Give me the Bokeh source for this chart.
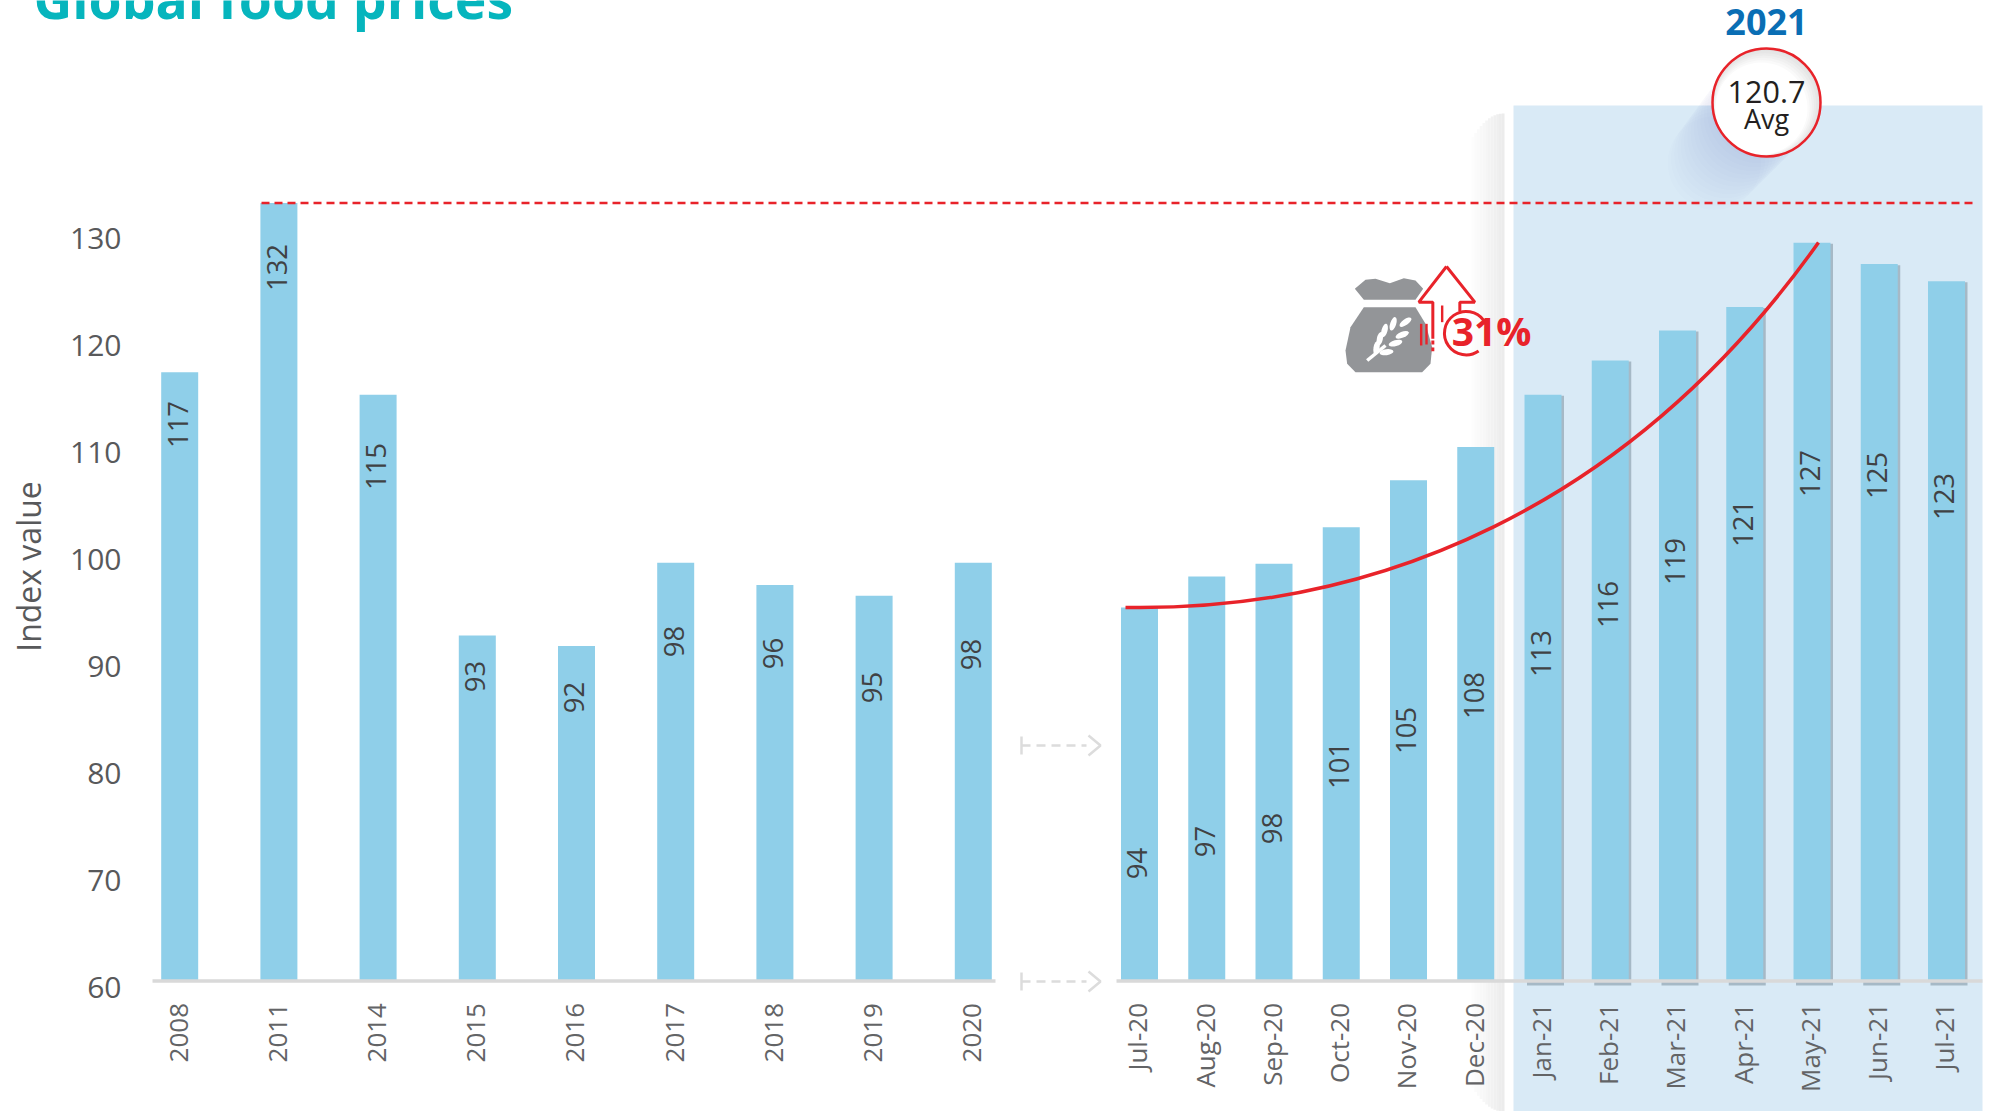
import math
from bokeh.core.properties import value
from bokeh.embed import file_html
from bokeh.models import FixedTicker, LinearAxis, Range1d
from bokeh.plotting import figure
from bokeh.resources import INLINE

# ---- data -------------------------------------------------------------
years = ["2008", "2011", "2014", "2015", "2016", "2017", "2018", "2019", "2020"]
year_values = [116.9, 132.7, 114.8, 92.3, 91.3, 99.1, 97.0, 96.0, 99.1]
year_labels = ["117", "132", "115", "93", "92", "98", "96", "95", "98"]

months = ["Jul-20", "Aug-20", "Sep-20", "Oct-20", "Nov-20", "Dec-20", "Jan-21",
          "Feb-21", "Mar-21", "Apr-21", "May-21", "Jun-21", "Jul-21"]
month_values = [94.9, 97.8, 99.0, 102.4, 106.8, 109.9, 114.8, 118.0, 120.8, 123.0, 129.0, 127.0, 125.4]
month_labels = ["94", "97", "98", "101", "105", "108", "113", "116", "119", "121", "127", "125", "123"]

y_ticks = [60, 70, 80, 90, 100, 110, 120, 130]
peak_value = 132.7

# ---- layout (reference pixels) ------------------------------------------
W, H = 1995, 1111
X0, X1, Y0, Y1 = 0, W, 0, H
BASE_PX, PX_PER_UNIT = 980.5, 10.7


def Y(px):
    return 60 + (BASE_PX - px) / PX_PER_UNIT


year_x = [179.2 + 99.2 * i for i in range(len(years))]
month_x = [1139 + 67.25 * i for i in range(len(months))]
BAR_W = 37
LABEL_SHIFT = 2.2
year_label_px = [424, 267, 466, 676, 697, 641, 653, 687, 654]
month_label_px = [863, 841, 828, 765, 730, 695, 653, 604, 561, 523, 473, 475, 496]
C_BAR, C_BAND, C_TXT, C_RED, C_AXIS = "#8fcfe9", "#d9eaf6", "#58595b", "#e8232a", "#d9d9d9"
FONT = value("Open Sans")

p = figure(width=W, height=H, output_backend="svg", toolbar_location=None,
           x_range=Range1d(X0, X1), y_range=Range1d(Y(Y1), Y(Y0)),
           x_axis_type=None, y_axis_type=None, min_border=0,
           background_fill_color="white", border_fill_color="white")
p.outline_line_color = None
p.grid.visible = False

# 2021 band and soft strip next to it
p.quad(left=1513, right=1982, bottom=Y(Y1), top=Y(105), fill_color=C_BAND, line_color=None)
n = 12
for i in range(n):
    t = (i + 1) / n
    shade = int(255 - 19 * t)
    round_px = 28 * (1 - t) ** 2
    p.quad(left=1471 + 33 * i / n, right=1471 + 33 * (i + 1) / n,
           bottom=Y(Y1 - round_px), top=Y(113 + round_px),
           fill_color=(shade, shade, shade), line_color=None)

# long shadow of the bubble
for d in range(6, 90, 6):
    p.scatter(x=[1766 - 0.62 * d], y=[Y(102 + 0.72 * d)], size=106 - 0.15 * d, marker="circle",
              fill_color="#5d7f92", fill_alpha=0.011, line_color=None)

# bar shadows for the 2021 months
p.vbar(x=[a + 2.5 for a in month_x[6:]], width=BAR_W, bottom=Y(985), top=[v - 0.1 for v in month_values[6:]],
       fill_color="#a6b9c6", line_color=None)

# bars
p.vbar(x=year_x, width=BAR_W, bottom=60, top=year_values, fill_color=C_BAR, line_color=None)
p.vbar(x=month_x, width=BAR_W, bottom=60, top=month_values, fill_color=C_BAR, line_color=None)

# baseline
p.segment(x0=[152, 1116], x1=[995, 1982], y0=[60, 60], y1=[60, 60], line_color=C_AXIS, line_width=3.5)

# connector arrows between the two panels
for py in (981, 745):
    p.line([1021, 1021], [Y(py - 9), Y(py + 9)], line_color="#dcdcdc", line_width=2.5)
    p.line([1021, 1086], [Y(py), Y(py)], line_color="#dcdcdc", line_width=2.5, line_dash="9 6")
    p.line([1088, 1100, 1088], [Y(py - 10), Y(py), Y(py + 10)], line_color="#dcdcdc", line_width=2.5)

# record-high dashed line
p.line([261, 1976], [peak_value, peak_value], line_color=C_RED, line_width=2.5, line_dash="8 5")

# trend curve
p.bezier(x0=[1125], y0=[Y(607)], x1=[1818], y1=[Y(242)],
         cx0=[1374], cy0=[Y(611)], cx1=[1628], cy1=[Y(509)], line_color=C_RED, line_width=3.5)

# bag icon (drawn in a small local coordinate system)
def IX(a):
    return 1300 + a / 3


def IY(b):
    return Y(240 + b / 3)


GREY = "#939598"
knot = [(163, 145), (195, 118), (225, 115), (268, 128), (310, 113), (345, 120), (368, 145), (345, 178), (190, 178)]
body = [(190, 200), (345, 200), (375, 250), (395, 320), (390, 370), (365, 395), (165, 395), (140, 370), (135, 330), (150, 260)]
for shape in (knot, body):
    p.patch([IX(a) for a, b in shape], [IY(b) for a, b in shape], fill_color=GREY, line_color=None)
p.line([IX(200), IX(255)], [IY(360), IY(315)], line_color="white", line_width=3.5)
grains = [(278, 250, 72), (252, 270, 75), (238, 295, 78), (228, 322, 80),
          (315, 245, 35), (305, 283, 22), (285, 308, 15), (258, 335, 8)]
p.ellipse(x=[IX(a) for a, b, c in grains], y=[IY(b) for a, b, c in grains], width=14, height=6,
          angle=[math.radians(c) for a, b, c in grains], angle_units="rad",
          height_units="screen", width_units="screen", fill_color="white", line_color=None)

# red arrow and ring
arrow_r = [(438, 78), (523, 185), (478, 185), (478, 212)]
arrow_l = [(438, 78), (355, 185), (397, 185), (397, 295)]
for shape in (arrow_r, arrow_l):
    p.line([IX(a) for a, b in shape], [IY(b) for a, b in shape], line_color=C_RED, line_width=3)
p.line([IX(397), IX(397)], [IY(300), IY(332)], line_color=C_RED, line_width=3, line_dash="4 3")
p.segment(x0=[IX(425), IX(362), IX(378)], x1=[IX(425), IX(362), IX(378)],
          y0=[IY(195), IY(250), IY(250)], y1=[IY(245), IY(315), IY(312)], line_color=C_RED, line_width=2.4)
p.arc(x=[IX(497)], y=[IY(278)], radius=[21.7], start_angle=[math.radians(35)], end_angle=[math.radians(305)],
      radius_units="screen", line_color=C_RED, line_width=3, direction="anticlock")

# bubble: soft grey rim at the upper right, white towards the lower left
for j in range(7):
    s = j / 6
    shade = int(226 + 29 * s)
    p.scatter(x=[1766 - 5 * s], y=[Y(102 + 6 * s)], size=108 - 16 * s, marker="circle",
              fill_color=(shade, shade, shade), line_color=None)
p.scatter(x=[1766], y=[Y(102)], size=108, marker="circle", fill_color=None, line_color=C_RED, line_width=2.5)

# data labels
p.text(x=[a - LABEL_SHIFT for a in year_x], y=[Y(v) for v in year_label_px], text=year_labels, angle=math.pi / 2,
       text_align="center", text_baseline="middle", text_font=FONT, text_font_size="27.5px", text_color="#404244")
p.text(x=[a - LABEL_SHIFT for a in month_x], y=[Y(v) for v in month_label_px], text=month_labels, angle=math.pi / 2,
       text_align="center", text_baseline="middle", text_font=FONT, text_font_size="27.5px", text_color="#404244")

# free texts
p.text(x=[33], y=[Y(-2)], text=["Global food prices"], text_font=FONT, text_font_style="bold",
       text_font_size="53.5px", text_color="#06b5bd", text_baseline="alphabetic")
p.text(x=[1766], y=[Y(21)], text=["2021"], text_font=FONT, text_font_style="bold", text_font_size="36px",
       text_color="#0a6eb4", text_align="center", text_baseline="middle")
p.text(x=[1766], y=[Y(91)], text=["120.7"], text_font=FONT, text_font_size="30.5px", text_color="#231f20",
       text_align="center", text_baseline="middle")
p.text(x=[1766], y=[Y(118)], text=["Avg"], text_font=FONT, text_font_size="27px", text_color="#231f20",
       text_align="center", text_baseline="middle")
p.text(x=[1491], y=[Y(330)], text=["31%"], text_font=FONT, text_font_style="bold", text_font_size="39px",
       text_color=C_RED, text_align="center", text_baseline="middle")
p.text(x=[28], y=[Y(566)], text=["Index value"], angle=math.pi / 2, text_font=FONT, text_font_size="32px",
       text_color=C_TXT, text_align="center", text_baseline="middle")

# axes: x labels under the baseline, y labels sit a little below their grid value
tick_x = [a - LABEL_SHIFT for a in year_x + month_x]
x_labels = dict(zip(tick_x, years + months))
xaxis = LinearAxis(ticker=FixedTicker(ticks=tick_x), major_label_overrides=x_labels,
                   major_label_orientation=math.pi / 2, fixed_location=60,
                   axis_line_color=None, major_tick_line_color=None, minor_tick_line_color=None,
                   major_label_standoff=16, major_label_text_font="Open Sans",
                   major_label_text_font_size="26px", major_label_text_color="#636466")
p.add_layout(xaxis, "below")

SHIFT = 6 / PX_PER_UNIT
p.extra_y_ranges = {"ticks": Range1d(Y(Y1) + SHIFT, Y(Y0) + SHIFT)}
yaxis = LinearAxis(y_range_name="ticks", ticker=FixedTicker(ticks=y_ticks), fixed_location=130,
                   axis_line_color=None, major_tick_line_color=None, minor_tick_line_color=None,
                   major_label_standoff=3, major_label_text_font="Open Sans",
                   major_label_text_font_size="30px", major_label_text_color=C_TXT)
p.add_layout(yaxis, "left")

open("out.html", "w").write(file_html(p, INLINE))
